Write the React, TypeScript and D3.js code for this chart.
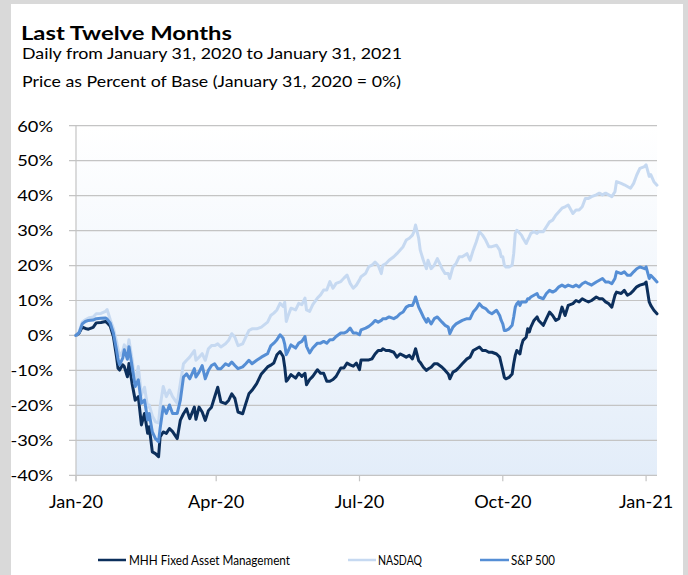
import React from "react";
import * as d3 from "d3";

// Data: day offsets from the base date (January 31, 2020) and price change in percent
const BASE_DATE = new Date(2020, 0, 31);

const DAY_OFFSETS = [
  0, 2, 4, 6, 8, 11, 13, 16, 19, 20,
  22, 24, 26, 27, 28, 30, 31, 33, 34, 36,
  38, 40, 42, 44, 46, 47, 49, 51, 53, 54,
  56, 58, 60, 62, 65, 67, 69, 71, 73, 76,
  77, 79, 81, 83, 85, 87, 89, 91, 93, 96,
  98, 100, 102, 104, 107, 109, 111, 113, 116, 119,
  123, 125, 127, 129, 131, 133, 134, 135, 136, 138,
  141, 143, 145, 147, 148, 150, 152, 155, 157, 159,
  161, 163, 165, 167, 170, 172, 174, 176, 178, 180,
  182, 183, 186, 188, 190, 192, 194, 196, 197, 199,
  201, 204, 206, 208, 210, 212, 214, 216, 217, 218,
  220, 221, 223, 225, 226, 228, 230, 232, 235, 237,
  239, 240, 242, 244, 246, 248, 251, 253, 255, 257,
  259, 261, 263, 265, 267, 270, 272, 273, 274, 275,
  276, 278, 280, 281, 282, 283, 284, 285, 286, 287,
  289, 290, 291, 292, 294, 296, 297, 300, 302, 304,
  306, 308, 310, 312, 314, 316, 319, 321, 323, 325,
  327, 329, 331, 334, 336, 338, 340, 342, 344, 346,
  347, 350, 352, 354, 356, 358, 360, 362, 365, 366,
  368, 369, 371, 373,
];

const MHH = [
  0, 0.7, 2.4, 2.0, 1.8, 2.3, 3.6, 3.7, 4.0, 3.6,
  2.6, -0.3, -6.0, -9.4, -9.9, -8.4, -8.9, -11.8, -8.0, -13.7,
  -18.5, -17.5, -25.6, -22.3, -28.0, -26.1, -33.3, -33.8, -34.7, -29.0,
  -27.6, -28.0, -26.6, -27.5, -29.5, -24.2, -22.4, -21.0, -23.8, -20.5,
  -24.0, -20.5, -21.9, -24.3, -21.5, -20.5, -17.6, -14.8, -19.0, -19.5,
  -18.6, -16.7, -18.0, -21.9, -22.4, -19.5, -16.7, -15.7, -13.8, -11.0,
  -9.0, -8.5, -7.9, -5.5, -4.6, -6.0, -9.0, -13.1, -12.6, -11.2,
  -12.2, -10.8, -11.7, -10.8, -14.1, -12.6, -11.7, -9.8, -10.8, -10.8,
  -13.1, -13.1, -12.6, -11.7, -9.3, -9.3, -7.9, -8.4, -8.8, -7.9,
  -9.8, -7.0, -7.0, -7.0, -6.7, -5.3, -4.3, -4.3, -3.8, -4.3,
  -4.3, -4.8, -6.2, -5.3, -5.7, -6.2, -5.7, -6.7, -5.3, -3.8,
  -7.2, -7.7, -9.1, -10.0, -9.6, -9.1, -8.1, -8.1, -9.1, -10.0,
  -11.0, -12.4, -10.5, -10.0, -9.1, -8.1, -6.7, -6.2, -4.3, -3.8,
  -3.3, -4.3, -4.3, -4.8, -4.8, -5.3, -6.2, -8.1, -10.0, -12.0,
  -12.4, -12.0, -11.0, -8.1, -5.7, -4.3, -4.8, -5.3, -2.9, -1.4,
  -0.5, 1.9, 1.0, 2.4, 4.3, 5.3, 4.3, 2.9, 4.8, 6.7,
  5.7, 4.3, 4.8, 8.1, 5.7, 8.6, 9.1, 10.0, 9.6, 10.5,
  10.0, 9.6, 10.0, 11.0, 10.5, 10.5, 9.6, 9.1, 8.1, 11.5,
  12.4, 12.0, 12.9, 11.5, 12.0, 12.9, 13.9, 14.4, 14.8, 15.3,
  9.6, 8.6, 7.2, 6.2,
];

const NASDAQ = [
  0, 1.0, 3.8, 4.5, 5.0, 5.3, 6.2, 6.3, 6.9, 7.4,
  4.5, 2.0, -1.7, -4.0, -5.8, -4.5, -2.7, -4.3, -1.2, -6.8,
  -13.8, -8.9, -17.0, -14.8, -20.5, -19.9, -23.0, -24.7, -25.0, -20.4,
  -14.6, -17.5, -15.6, -17.5, -19.4, -13.7, -8.1, -7.1, -6.2, -4.3,
  -7.1, -6.2, -5.2, -7.1, -3.8, -2.9, -2.9, -2.4, -3.3, -2.4,
  -1.4, 0.5, -0.5, -2.9, -2.4, -0.5, 1.4, 1.9, 1.9, 2.4,
  3.8, 5.7, 6.4, 7.3, 9.2, 8.3, 9.5, 4.0, 5.4, 7.8,
  7.3, 9.2, 8.8, 10.7, 7.3, 6.9, 8.8, 10.7, 11.6, 13.0,
  13.0, 15.4, 13.5, 14.9, 15.4, 16.4, 17.3, 14.9, 13.5, 14.4,
  15.9, 16.8, 17.8, 19.7, 20.1, 21.0, 20.1, 17.7, 20.1, 20.6,
  21.5, 22.5, 23.4, 24.4, 25.4, 27.3, 27.8, 28.7, 29.7, 31.6,
  27.8, 24.4, 21.5, 19.1, 21.5, 19.1, 20.1, 22.0, 19.1, 17.7,
  17.7, 16.3, 19.6, 20.6, 22.5, 22.5, 23.4, 21.5, 24.4, 26.8,
  29.7, 28.7, 27.3, 25.4, 25.4, 25.8, 24.4, 22.5, 22.5, 20.1,
  19.6, 19.6, 20.1, 23.4, 29.2, 30.1, 29.7, 29.2, 28.7, 27.8,
  26.3, 27.3, 28.2, 29.2, 29.7, 29.2, 29.7, 29.7, 31.1, 32.5,
  33.0, 34.4, 35.4, 36.4, 36.8, 37.3, 34.9, 35.9, 35.9, 36.8,
  39.2, 39.2, 39.7, 40.2, 40.7, 40.2, 40.7, 40.2, 39.7, 41.1,
  44.0, 43.5, 43.1, 42.6, 42.1, 43.5, 45.9, 47.8, 48.3, 48.8,
  45.5, 46.0, 44.0, 43.0,
];

const SP500 = [
  0, 0.8, 3.3, 4.0, 4.3, 4.4, 4.8, 4.9, 5.0, 4.7,
  3.5, 0.7, -4.1, -6.8, -8.4, -6.5, -4.1, -6.8, -3.2, -8.8,
  -14.6, -12.7, -19.4, -18.5, -24.2, -22.3, -27.6, -29.5, -30.4, -26.6,
  -20.4, -22.3, -19.9, -22.3, -22.3, -18.5, -11.9, -11.0, -12.4, -9.5,
  -11.9, -10.5, -8.6, -12.4, -10.0, -8.6, -8.1, -9.5, -9.5, -8.1,
  -8.6, -7.6, -8.6, -9.5, -9.0, -8.1, -7.1, -8.1, -7.1, -6.2,
  -5.2, -3.0, -2.2, -1.2, 0.2, -0.8, -2.5, -5.5, -4.6, -2.7,
  -3.6, -2.2, -1.7, -0.3, -3.1, -5.0, -3.6, -2.2, -2.2, -1.7,
  -2.2, -1.2, -1.2, -0.3, 0.7, 0.7, 1.1, 2.1, 0.7, 0.7,
  0.2, 1.6, 2.1, 2.6, 3.3, 4.3, 3.8, 4.3, 4.8, 4.8,
  5.3, 4.8, 5.3, 6.2, 6.7, 8.1, 8.6, 8.6, 9.6, 11.0,
  8.1, 7.2, 5.3, 3.8, 4.8, 3.3, 4.8, 5.3, 3.8, 2.9,
  2.4, 0.5, 2.4, 3.3, 3.8, 4.3, 4.8, 4.8, 6.7, 7.7,
  9.1, 8.1, 7.7, 6.7, 6.2, 7.2, 5.7, 4.3, 3.3, 1.4,
  1.4, 1.9, 2.9, 5.3, 8.1, 9.1, 9.6, 8.6, 9.6, 9.6,
  9.6, 10.5, 10.5, 11.0, 11.5, 12.0, 11.0, 10.5, 12.0, 12.9,
  12.4, 12.9, 13.9, 14.4, 13.9, 14.4, 13.9, 14.4, 13.9, 14.8,
  15.3, 14.8, 14.4, 15.3, 15.8, 16.3, 15.3, 15.3, 14.8, 16.3,
  18.2, 17.7, 18.2, 17.2, 17.2, 18.2, 19.1, 19.6, 19.1, 19.6,
  16.3, 17.2, 16.3, 15.3,
];

const SERIES_NAMES = ["MHH Fixed Asset Management", "NASDAQ", "S&P 500"];
const SERIES_COLORS = ["#0c2f5c", "#c6d9f1", "#558ed5"];
const Y_TICKS = [-40, -30, -20, -10, 0, 10, 20, 30, 40, 50, 60];
const X_TICK_DATES = ["2020-01-31", "2020-04-30", "2020-07-31", "2020-10-31", "2021-01-31"];
const X_TICK_LABELS = ["Jan-20", "Apr-20", "Jul-20", "Oct-20", "Jan-21"];

const TITLE = "Last Twelve Months";
const SUBTITLE_1 = "Daily from January 31, 2020 to January 31, 2021";
const SUBTITLE_2 = "Price as Percent of Base (January 31, 2020 = 0%)";

const FONT = "Lato, 'Open Sans', sans-serif";

export default function App() {
  const W = 688;
  const H = 575;
  const plot = { left: 76, right: 657, top: 125.7, bottom: 475.3 };

  const dates = DAY_OFFSETS.map((d) => d3.timeDay.offset(BASE_DATE, d));
  const x = d3
    .scaleTime()
    .domain([BASE_DATE, d3.timeDay.offset(BASE_DATE, 373)])
    .range([plot.left, plot.right]);
  const y = d3.scaleLinear().domain([-40, 60]).range([plot.bottom, plot.top]);

  const parse = d3.timeParse("%Y-%m-%d");
  const tickDates = X_TICK_DATES.map((s) => parse(s) as Date);

  const line = d3
    .line<number>()
    .x((_, i) => x(dates[i]))
    .y((d) => y(d));

  const seriesData = [MHH, NASDAQ, SP500];
  const fmt = (v: number) => `${v}%`;

  const legendItems = [
    { x1: 98, x2: 126, tx: 129, tw: 161 },
    { x1: 348, x2: 376, tx: 378, tw: 44 },
    { x1: 480, x2: 509, tx: 511, tw: 44 },
  ];

  const gridColor = "#c4c4c4";

  return (
    <svg
      width={W}
      height={H}
      style={{ position: "absolute", left: 0, top: 0, display: "block" }}
      fontFamily={FONT}
    >
      <defs>
        <linearGradient id="plotBg" x1="0" y1="0" x2="0" y2="1">
          <stop offset="0%" stopColor="#ffffff" />
          <stop offset="100%" stopColor="#e3edf9" />
        </linearGradient>
      </defs>
      <rect x={0} y={0} width={W} height={H} fill="#d9d9d9" />
      <rect x={11} y={4} width={672} height={H - 4} fill="#ffffff" />

      <text x={21} y={40} fontSize={18.5} fontWeight={700} fill="#000" textLength={211} lengthAdjust="spacingAndGlyphs">
        {TITLE}
      </text>
      <text x={22} y={59} fontSize={16} fill="#000" textLength={380} lengthAdjust="spacingAndGlyphs">
        {SUBTITLE_1}
      </text>
      <text x={22} y={86.5} fontSize={16} fill="#000" textLength={379} lengthAdjust="spacingAndGlyphs">
        {SUBTITLE_2}
      </text>

      <rect
        x={plot.left}
        y={plot.top}
        width={plot.right - plot.left}
        height={plot.bottom - plot.top}
        fill="url(#plotBg)"
      />

      {Y_TICKS.map((t) => (
        <g key={t}>
          <line x1={69} x2={plot.right} y1={y(t)} y2={y(t)} stroke={gridColor} strokeWidth={1.2} />
          <text
            transform={`translate(53,${y(t) + 5.8}) scale(1.14,1)`}
            textAnchor="end"
            fontSize={16}
            fill="#000"
          >
            {fmt(t)}
          </text>
        </g>
      ))}

      <line x1={plot.left} x2={plot.left} y1={plot.top} y2={plot.bottom + 6} stroke={gridColor} strokeWidth={1.2} />
      {tickDates.map((d, i) => (
        <g key={X_TICK_LABELS[i]}>
          <line x1={x(d)} x2={x(d)} y1={plot.bottom} y2={plot.bottom + 6} stroke={gridColor} strokeWidth={1.2} />
          <text
            transform={`translate(${x(d)},508) scale(1.1,1)`}
            textAnchor="middle"
            fontSize={16.5}
            fill="#000"
          >
            {X_TICK_LABELS[i]}
          </text>
        </g>
      ))}

      {seriesData.map((s, i) => (
        <path
          key={SERIES_NAMES[i]}
          d={line(s) || ""}
          fill="none"
          stroke={SERIES_COLORS[i]}
          strokeWidth={3}
          strokeLinejoin="round"
          strokeLinecap="round"
        />
      ))}

      {legendItems.map((it, i) => (
        <g key={SERIES_NAMES[i]}>
          <line x1={it.x1} x2={it.x2} y1={560} y2={560} stroke={SERIES_COLORS[i]} strokeWidth={2.5} />
          <text x={it.tx} y={564.5} fontSize={13} fill="#000" textLength={it.tw} lengthAdjust="spacingAndGlyphs">
            {SERIES_NAMES[i]}
          </text>
        </g>
      ))}
    </svg>
  );
}
